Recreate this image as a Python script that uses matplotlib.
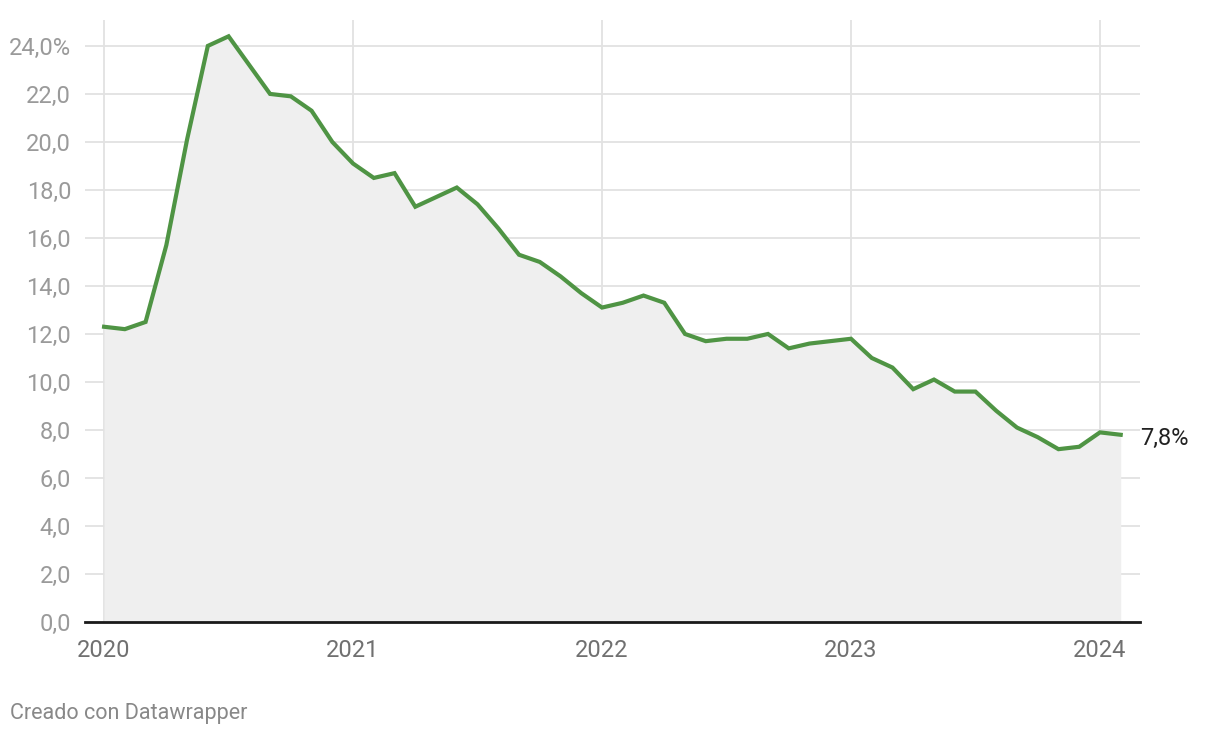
import numpy as np
import matplotlib.pyplot as plt

# tasa mensual, ene 2020 - feb 2024
valores = [12.3, 12.2, 12.5, 15.7, 20.1, 24.0, 24.4, 23.2, 22.0, 21.9, 21.3, 20.0,
           19.1, 18.5, 18.7, 17.3, 17.7, 18.1, 17.4, 16.4, 15.3, 15.0, 14.4, 13.7,
           13.1, 13.3, 13.6, 13.3, 12.0, 11.7, 11.8, 11.8, 12.0, 11.4, 11.6, 11.7,
           11.8, 11.0, 10.6, 9.7, 10.1, 9.6, 9.6, 8.8, 8.1, 7.7, 7.2, 7.3,
           7.9, 7.8]
anios = ["2020", "2021", "2022", "2023", "2024"]
y_ticks = list(range(0, 26, 2))

plt.rcParams['font.family'] = ['Roboto', 'DejaVu Sans']

meses = np.arange(len(valores))

fig = plt.figure(figsize=(12.2, 7.38), dpi=100)
ax = fig.add_axes([85 / 1220, 1 - 622 / 738, (1140 - 85) / 1220, (622 - 20) / 738])

ax.fill_between(meses, valores, 0, color='#efefef', lw=0, zorder=1)
ax.plot(meses, valores, color='#4f9444', lw=3, zorder=3, solid_joinstyle='miter')

ax.set_xlim(-0.92, 49.93)
ax.set_ylim(0, 25.08)

ax.set_yticks(y_ticks)
ax.set_yticklabels([f"{v},0%" if v == 24 else f"{v},0" for v in y_ticks])
ax.set_xticks([12 * i for i in range(len(anios))])
ax.set_xticklabels(anios)

ax.grid(True, color='#e2e2e2', lw=1.3, zorder=0)
ax.set_axisbelow(True)
for s in ['top', 'right', 'left']:
    ax.spines[s].set_visible(False)
ax.spines['bottom'].set_color('#1a1a1a')
ax.spines['bottom'].set_linewidth(2)
ax.spines['bottom'].set_zorder(5)

ax.tick_params(axis='y', length=0, pad=10, labelsize=17, labelcolor='#9a9a9a')
ax.tick_params(axis='x', length=0, pad=12, labelsize=17, labelcolor='#707070')

ax.annotate("7,8%", xy=(meses[-1], valores[-1]), xytext=(14, -3),
            textcoords='offset points', ha='left', va='center',
            fontsize=17, color='#222222')

fig.text(10 / 1220, 1 - 714 / 738, "Creado con Datawrapper", fontsize=15.5,
         color='#888888', ha='left', va='center')

fig.savefig("out.png", dpi=100)
